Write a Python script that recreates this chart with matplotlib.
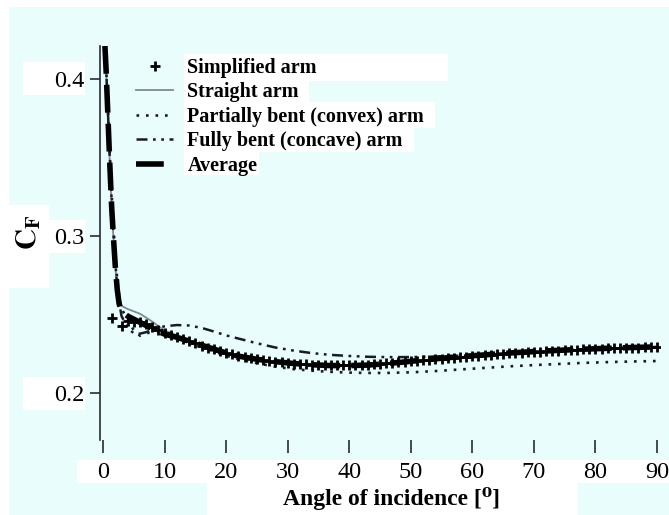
import matplotlib
matplotlib.use("Agg")
import matplotlib.pyplot as plt
from matplotlib.patches import Rectangle

plt.rcParams['font.family'] = ['Liberation Serif', 'DejaVu Serif']
plt.rcParams['mathtext.fontset'] = 'stix'

# ---------------- data ----------------
angles = [0.3, 0.5, 0.8, 1.1, 1.4, 1.7, 2.0, 2.3, 2.6, 3, 4, 5, 6, 7, 8, 9, 10,
          12, 14, 16, 18, 20, 22, 25, 28, 31, 34, 37, 40, 43, 46, 50, 54, 58,
          62, 66, 70, 74, 78, 82, 86, 90]

straight = [0.421, 0.405, 0.375, 0.345, 0.318, 0.298, 0.280, 0.266, 0.259, 0.2555,
            0.2535, 0.2520, 0.2505, 0.2480, 0.2455, 0.2425, 0.2400,
            0.2365, 0.2333, 0.2302, 0.2276, 0.2252, 0.2233, 0.2213, 0.2197,
            0.2185, 0.2176, 0.2172, 0.2173, 0.2176, 0.2184, 0.2198, 0.2214,
            0.2228, 0.2240, 0.2251, 0.2261, 0.2270, 0.2277, 0.2283, 0.2288, 0.2292]

convex = [0.421, 0.408, 0.380, 0.352, 0.326, 0.305, 0.287, 0.272, 0.262, 0.2540,
          0.2460, 0.2400, 0.2365, 0.2375, 0.2400, 0.2395, 0.2380,
          0.2355, 0.2325, 0.2295, 0.2265, 0.2238, 0.2215, 0.2190, 0.2168,
          0.2152, 0.2142, 0.2135, 0.2130, 0.2128, 0.2128, 0.2132, 0.2140,
          0.2150, 0.2160, 0.2170, 0.2178, 0.2185, 0.2192, 0.2197, 0.2201, 0.2204]

concave = [0.421, 0.407, 0.378, 0.349, 0.322, 0.301, 0.283, 0.268, 0.258, 0.2490,
           0.2415, 0.2380, 0.2378, 0.2388, 0.2402, 0.2415, 0.2425,
           0.2433, 0.2430, 0.2415, 0.2392, 0.2367, 0.2347, 0.2317, 0.2290,
           0.2270, 0.2254, 0.2243, 0.2236, 0.2231, 0.2229, 0.2229, 0.2233,
           0.2238, 0.2246, 0.2255, 0.2264, 0.2272, 0.2279, 0.2285, 0.2290, 0.2294]

average = [0.421, 0.405, 0.375, 0.345, 0.318, 0.298, 0.280, 0.266, 0.257, 0.2520,
           0.2490, 0.2470, 0.2450, 0.2430, 0.2410, 0.2392, 0.2375,
           0.2355, 0.2330, 0.2305, 0.2280, 0.2255, 0.2235, 0.2215, 0.2200,
           0.2188, 0.2180, 0.2175, 0.2175, 0.2178, 0.2187, 0.2202, 0.2218,
           0.2232, 0.2243, 0.2255, 0.2264, 0.2272, 0.2279, 0.2285, 0.2290, 0.2294]

simp_angles = [1.5] + list(range(3, 91))
simplified = [0.2480,
              0.2430, 0.2460, 0.2455, 0.2450, 0.2440, 0.2420, 0.2400, 0.2385,
              0.2370, 0.2355, 0.2345, 0.2330, 0.2318, 0.2302, 0.2290, 0.2280,
              0.2268, 0.2255, 0.2247, 0.2238, 0.2230, 0.2222, 0.2218, 0.2212,
              0.2206, 0.2200, 0.2197, 0.2192, 0.2188, 0.2186, 0.2182, 0.2180,
              0.2178, 0.2177, 0.2176, 0.2176, 0.2176, 0.2177, 0.2178, 0.2179,
              0.2181, 0.2183, 0.2186, 0.2189, 0.2192, 0.2195, 0.2198, 0.2202,
              0.2205, 0.2209, 0.2212, 0.2216, 0.2219, 0.2222, 0.2226, 0.2229,
              0.2232, 0.2235, 0.2238, 0.2241, 0.2244, 0.2247, 0.2250, 0.2252,
              0.2255, 0.2257, 0.2260, 0.2262, 0.2264, 0.2266, 0.2268, 0.2270,
              0.2272, 0.2274, 0.2276, 0.2278, 0.2279, 0.2281, 0.2282, 0.2284,
              0.2285, 0.2287, 0.2288, 0.2289, 0.2290, 0.2291, 0.2292, 0.2294]

x_ticks = [0, 10, 20, 30, 40, 50, 60, 70, 80, 90]
y_ticks = [0.2, 0.3, 0.4]
labels = ["Simplified arm", "Straight arm", "Partially bent (convex) arm",
          "Fully bent (concave) arm", "Average"]

# ---------------- figure ----------------
W, H = 669, 515
fig = plt.figure(figsize=(W / 100, H / 100), dpi=100)
fig.patch.set_facecolor('white')
CYAN = '#E9FDFD'


def px_rect(x0, y0, x1, y1, color):
    fig.add_artist(Rectangle((x0 / W, 1 - y1 / H), (x1 - x0) / W, (y1 - y0) / H,
                             transform=fig.transFigure, facecolor=color,
                             edgecolor='none', zorder=-10))


px_rect(9, 7, 669, 515, CYAN)
for r in [(23, 62, 85, 95), (49, 220, 85, 253), (23, 377, 85, 410),
          (9, 205, 49, 288), (77, 460, 669, 483), (207, 483, 578, 515),
          (184, 54, 448, 81), (184, 81, 309, 102), (184, 102, 435, 128),
          (184, 128, 414, 152), (184, 152, 259, 175)]:
    px_rect(*r, 'white')

ax = fig.add_axes([100 / W, 1 - 440 / H, 560 / W, 394 / H])
ax.patch.set_alpha(0)
ax.set_xlim(-0.5, 90.5)
ax.set_ylim(0.1701, 0.4210)

DARK = '#2a2a38'
ax.plot(angles, straight, color='#808890', lw=1.3, label=labels[1], zorder=2)
ax.plot(angles, convex, color='#1a1a28', lw=1.9, linestyle=(0, (1, 2.6)),
        label=labels[2], zorder=3)
ax.plot(angles, concave, color='#1a1a28', lw=1.8,
        linestyle=(0, (4.4, 2.2, 1.1, 2.2, 1.1, 2.2)), label=labels[3], zorder=3)
ax.plot(angles, average, color='black', lw=4, linestyle=(0, (5, 2)),
        label=labels[4], zorder=4)
ax.plot(simp_angles, simplified, linestyle='none', marker='+', ms=7, mew=2,
        color='black', label=labels[0], zorder=5)

for s in ['top', 'right', 'bottom']:
    ax.spines[s].set_visible(False)
ax.spines['left'].set_color(DARK)
ax.spines['left'].set_linewidth(1.2)

ax.set_xticks(x_ticks)
ax.set_yticks(y_ticks)
ax.set_xticklabels([str(t) for t in x_ticks])
ax.set_yticklabels([f"{t:.1f}" for t in y_ticks])
ax.tick_params(axis='x', direction='out', length=9, width=1.2, color=DARK,
               labelsize=17.5, pad=7)
ax.tick_params(axis='y', direction='out', length=7, width=1.2, color=DARK,
               labelsize=17.5, pad=4)

fig.text(29 / W, 1 - 232 / H, r"$\mathbf{C_F}$", rotation=90, ha='center',
         va='center', fontsize=21)
fig.text(392 / W, 1 - 498 / H, "Angle of incidence [⁰]", ha='center',
         va='center', fontsize=17, fontweight='bold')

handles, labs = ax.get_legend_handles_labels()
order = [labs.index(l) for l in labels]
leg = ax.legend([handles[i] for i in order], [labs[i] for i in order],
                loc='upper left', bbox_to_anchor=(36 / 560, (440 - 58) / 394),
                frameon=False, borderpad=0, borderaxespad=0, handlelength=1.85,
                handletextpad=0.7, labelspacing=0.22,
                prop={'family': ['Liberation Serif'], 'weight': 'bold', 'size': 14.5})

fig.savefig("out.png", dpi=100, facecolor=fig.get_facecolor())
